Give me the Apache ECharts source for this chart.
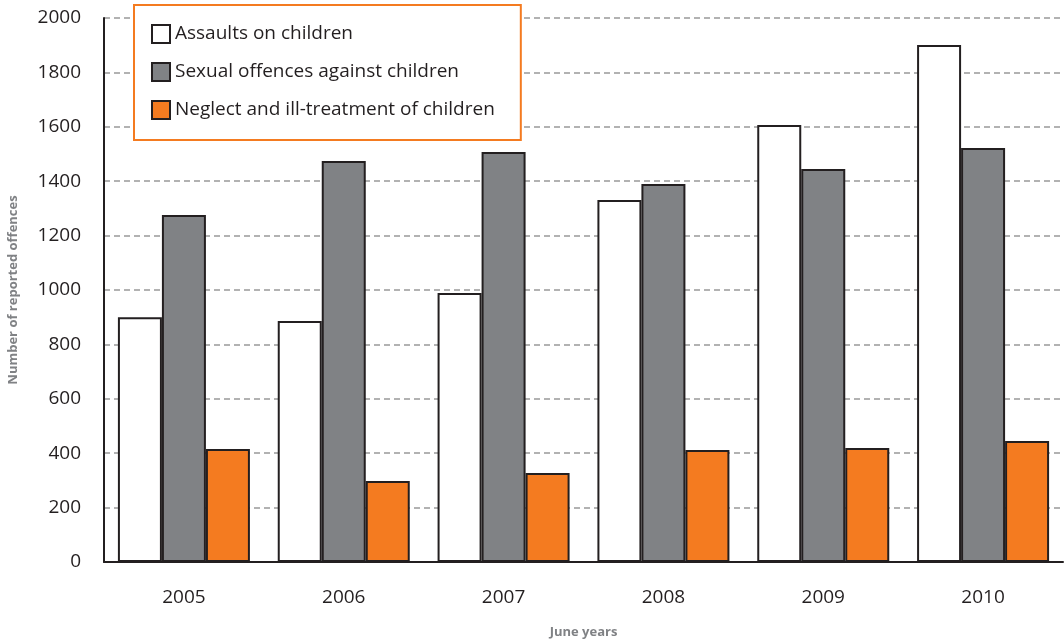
<!DOCTYPE html>
<html>
<head>
<meta charset="utf-8">
<script src="https://cdn.jsdelivr.net/npm/echarts@6/dist/echarts.min.js"></script>
<style>
  html, body { margin: 0; padding: 0; background: #fff; }
  #chart { width: 1064px; height: 641px; }
</style>
</head>
<body>
<div id="chart"></div>
<script>
// Reported offences against children, by June year
const years = ['2005', '2006', '2007', '2008', '2009', '2010'];
const assaults = [900, 886, 989, 1331, 1607, 1901];
const sexualOffences = [1276, 1474, 1507, 1390, 1445, 1522];
const neglect = [415, 298, 327, 412, 419, 445];
const seriesNames = [
  'Assaults on children',
  'Sexual offences against children',
  'Neglect and ill-treatment of children'
];

const FONT = 'Open Sans';
const INK = '#231f20';

const chart = echarts.init(document.getElementById('chart'), null, { renderer: 'canvas' });

function barSeries(name, data, fill) {
  return {
    name: name,
    type: 'bar',
    data: data,
    barWidth: 44,
    barGap: '0%',
    itemStyle: { color: fill, borderColor: INK, borderWidth: 2 }
  };
}

chart.setOption({
  animation: false,
  textStyle: { fontFamily: FONT },
  grid: { left: 104, right: 1, top: 18, bottom: 79, containLabel: false, outerBoundsMode: 'none' },
  legend: {
    orient: 'vertical',
    left: 134,
    top: 5,
    padding: [19, 26, 20, 17],
    borderColor: '#f47b20',
    borderWidth: 2,
    backgroundColor: '#fff',
    icon: 'rect',
    itemWidth: 18,
    itemHeight: 18,
    itemGap: 18,
    textStyle: { fontFamily: FONT, fontSize: 19, lineHeight: 18, color: INK },
    data: seriesNames
  },
  xAxis: {
    type: 'category',
    data: years,
    boundaryGap: true,
    axisLine: { show: true, lineStyle: { color: INK, width: 2 } },
    axisTick: { show: false },
    axisLabel: { fontFamily: FONT, fontSize: 19, color: INK, margin: 26 },
    name: 'June years',
    nameLocation: 'middle',
    nameGap: 64,
    nameTextStyle: { fontFamily: FONT, fontSize: 13, fontWeight: 'bold', color: '#808285' }
  },
  yAxis: {
    type: 'value',
    min: 0,
    max: 2000,
    interval: 200,
    axisLine: { show: true, lineStyle: { color: INK, width: 2 } },
    axisTick: { show: false },
    axisLabel: {
      fontFamily: FONT, fontSize: 19, color: INK, margin: 23,
      formatter: function (v) { return String(v); }
    },
    splitLine: { show: true, lineStyle: { color: '#999999', width: 1.5, type: [6, 4] } },
    name: 'Number of reported offences',
    nameLocation: 'middle',
    nameGap: 84,
    nameRotate: 90,
    nameTextStyle: { fontFamily: FONT, fontSize: 13, fontWeight: 'bold', color: '#808285' }
  },
  series: [
    barSeries(seriesNames[0], assaults, '#ffffff'),
    barSeries(seriesNames[1], sexualOffences, '#808285'),
    barSeries(seriesNames[2], neglect, '#f47b20')
  ]
});
</script>
</body>
</html>
